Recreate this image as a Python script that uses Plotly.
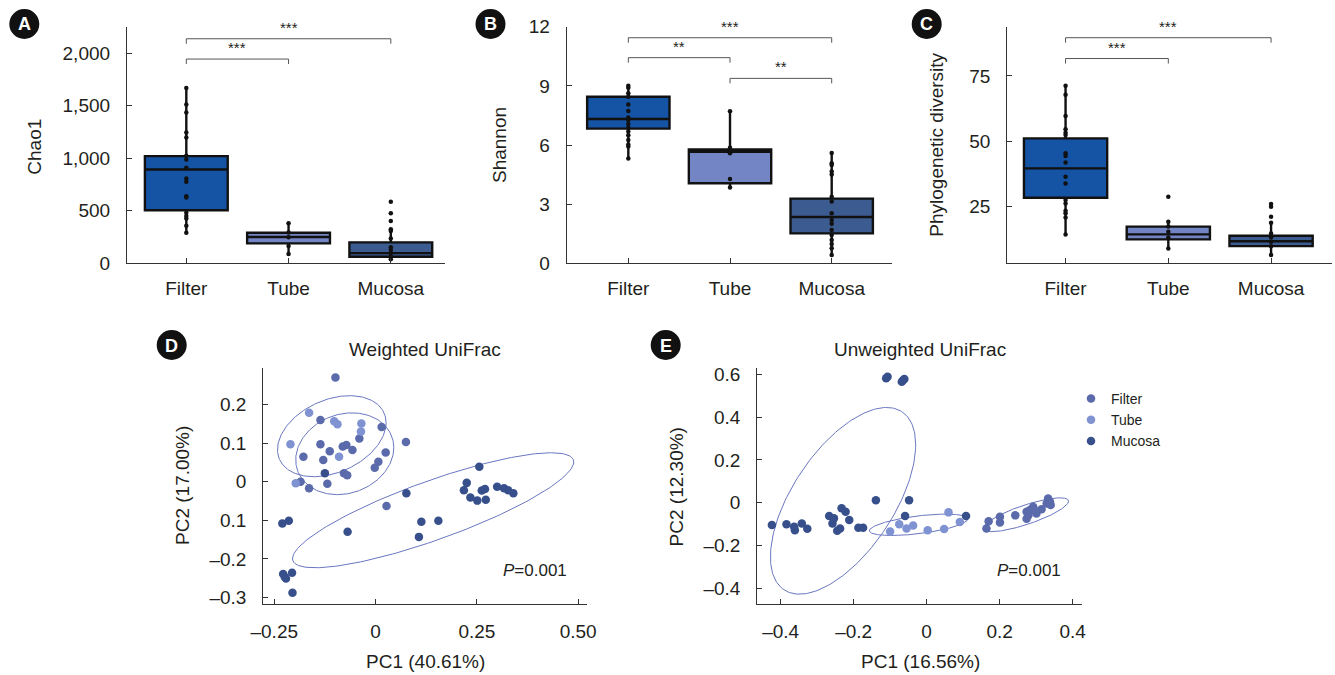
import numpy as np
import plotly.graph_objects as go

W, H = 1335, 675
FONT = "Liberation Sans, Arial, sans-serif"
TXT = "#231f20"
AXC = "#333333"

CATS = ["Filter", "Tube", "Mucosa"]
BOX_COLORS = ["#1553a5", "#7385c5", "#3c5b91"]

# ---- Panel A: Chao1 ----
A_Q1 = [505, 190, 63]
A_MED = [892, 250, 97]
A_Q3 = [1020, 290, 199]
A_LO = [290, 90, 35]
A_HI = [1668, 380, 323]
A_FILTER = [1668, 1510, 1434, 1244, 1196, 1022, 987, 908, 807, 775, 639, 627, 481, 449, 427, 358, 291]
A_TUBE = [380, 294, 247, 165, 89]
A_MUCOSA = [586, 475, 402, 323, 307, 237, 152, 127, 95, 63, 38]
A_BRACKETS = [(0, 1, 1943, "***"), (0, 2, 2136, "***")]

# ---- Panel B: Shannon ----
B_Q1 = [6.83, 4.06, 1.52]
B_MED = [7.32, 5.66, 2.35]
B_Q3 = [8.45, 5.78, 3.28]
B_LO = [5.31, 3.85, 0.42]
B_HI = [9.0, 7.71, 5.59]
B_FILTER = [9.0, 8.9, 8.62, 8.45, 8.06, 7.72, 7.4, 7.27, 7.06, 6.88, 6.68, 6.5, 6.25, 6.03, 5.92, 5.31]
B_TUBE = [7.71, 5.86, 5.58, 4.28, 3.85]
B_MUCOSA = [5.59, 5.07, 4.99, 4.65, 4.51, 3.38, 3.13, 2.54, 2.2, 2.0, 1.69, 1.44, 1.18, 0.98, 0.76, 0.42]
B_BRACKETS = [(0, 1, 10.43, "**"), (0, 2, 11.44, "***"), (1, 2, 9.38, "**")]

# ---- Panel C: Phylogenetic diversity ----
C_Q1 = [28.2, 12.2, 9.6]
C_MED = [39.5, 14.1, 11.5]
C_Q3 = [51.0, 17.1, 13.6]
C_LO = [14.1, 8.7, 6.2]
C_HI = [71.2, 19.0, 18.6]
C_FILTER = [71.2, 67.8, 59.6, 54.5, 53.2, 52.3, 45.3, 44.2, 41.7, 36.3, 33.7, 27.3, 26.0, 23.2, 22.2, 20.6, 14.1]
C_TUBE = [28.6, 19.0, 17.1, 15.1, 12.9, 8.7]
C_MUCOSA = [25.8, 24.7, 20.9, 18.6, 14.5, 12.9, 11.3, 9.6, 6.2]
C_BRACKETS = [(0, 1, 81.7, "***"), (0, 2, 89.7, "***")]

# ---- PCoA colours ----
GROUP_COLORS = {"Filter": "#5a6aaa", "Tube": "#7f92d2", "Mucosa": "#37508c"}
ELLIPSE_COLOR = "#6a76c0"

# ---- Panel D: Weighted UniFrac ----
D_FILTER_X = [-0.099, -0.136, -0.040, 0.015, 0.075, -0.136, -0.113, -0.081, -0.072, -0.057, -0.178,
              -0.129, 0.025, 0.007, -0.002, -0.078, -0.070, -0.185, -0.164, -0.119, 0.027]
D_FILTER_Y = [0.270, 0.160, 0.112, 0.142, 0.103, 0.097, 0.079, 0.091, 0.095, 0.082, 0.065,
              0.056, 0.076, 0.052, 0.036, 0.022, 0.017, 0.000, -0.017, -0.005, -0.063]
D_TUBE_X = [-0.164, -0.102, -0.094, -0.035, -0.036, -0.210, -0.090, -0.197]
D_TUBE_Y = [0.179, 0.157, 0.149, 0.151, 0.130, 0.097, 0.065, -0.004]
D_MUCOSA_X = [-0.125, 0.076, 0.256, 0.225, 0.218, 0.234, 0.251, 0.262, 0.270, 0.272, 0.300, 0.317,
              0.327, 0.340, 0.113, 0.155, 0.107, -0.069, -0.230, -0.214, -0.228, -0.221, -0.206,
              -0.205, -0.224]
D_MUCOSA_Y = [0.022, -0.030, 0.039, -0.003, -0.022, -0.041, -0.049, -0.023, -0.019, -0.047, -0.013,
              -0.017, -0.022, -0.030, -0.104, -0.101, -0.143, -0.130, -0.108, -0.101, -0.239, -0.251,
              -0.236, -0.288, -0.247]
# ellipse: centre x, centre y, half-width, half-height, correlation
D_ELLIPSES = [(-0.108, 0.118, 0.134, 0.105, 0.33),
              (-0.076, 0.0725, 0.121, 0.106, 0.15),
              (0.142, -0.074, 0.347, 0.149, 0.84)]

# ---- Panel E: Unweighted UniFrac ----
E_FILTER_X = [0.164, 0.170, 0.201, 0.201, 0.243, 0.274, 0.283, 0.292, 0.274, 0.301, 0.315, 0.329,
              0.333, 0.338, 0.340, 0.279, 0.297]
E_FILTER_Y = [-0.120, -0.086, -0.065, -0.092, -0.059, -0.075, -0.034, -0.019, -0.042, -0.050, -0.030,
              -0.003, 0.020, 0.005, -0.011, -0.058, -0.037]
E_TUBE_X = [-0.075, -0.055, -0.037, -0.100, 0.003, 0.048, 0.060, 0.091]
E_TUBE_Y = [-0.100, -0.120, -0.106, -0.134, -0.128, -0.123, -0.045, -0.090]
E_MUCOSA_X = [-0.111, -0.107, -0.064, -0.068, -0.061, -0.139, -0.048, -0.424, -0.384, -0.361, -0.363,
              -0.342, -0.327, -0.267, -0.254, -0.258, -0.233, -0.222, -0.212, -0.245, -0.237, -0.187,
              -0.174, -0.059, 0.108]
E_MUCOSA_Y = [0.581, 0.589, 0.573, 0.565, 0.578, 0.012, 0.012, -0.104, -0.100, -0.128, -0.112,
              -0.097, -0.121, -0.062, -0.073, -0.097, -0.026, -0.042, -0.081, -0.131, -0.120, -0.117,
              -0.117, -0.062, -0.062]
E_ELLIPSES = [(-0.229, 0.009, 0.199, 0.436, 0.60),
              (-0.022, -0.103, 0.135, 0.050, 0.55),
              (0.272, -0.056, 0.117, 0.079, 0.80)]


def fx(px):
    return px / W


def fy(py):
    return 1 - py / H


fig = go.Figure()
annotations = []
shapes = []

# ---------- box panels ----------
BOX_PANELS = [
    dict(k="", q1=A_Q1, med=A_MED, q3=A_Q3, lo=A_LO, hi=A_HI, pts=[A_FILTER, A_TUBE, A_MUCOSA],
         br=A_BRACKETS, xdom=(127, 445), ydom=(27, 263.3), xr=(-0.58, 2.53), yr=(0, 2248),
         tv=[0, 500, 1000, 1500, 2000], fmt=","),
    dict(k="2", q1=B_Q1, med=B_MED, q3=B_Q3, lo=B_LO, hi=B_HI, pts=[B_FILTER, B_TUBE, B_MUCOSA],
         br=B_BRACKETS, xdom=(566.7, 891.7), ydom=(26.7, 263.3), xr=(-0.606, 2.59), yr=(0, 12),
         tv=[0, 3, 6, 9, 12], fmt=""),
    dict(k="3", q1=C_Q1, med=C_MED, q3=C_Q3, lo=C_LO, hi=C_HI, pts=[C_FILTER, C_TUBE, C_MUCOSA],
         br=C_BRACKETS, xdom=(1007.3, 1331.7), ydom=(27.3, 263.3), xr=(-0.567, 2.59), yr=(3, 93.7),
         tv=[25, 50, 75], fmt=""),
]

layout_axes = {}
for p in BOX_PANELS:
    k = p["k"]
    xa, ya = "x" + k, "y" + k
    for i, c in enumerate(CATS):
        fig.add_trace(go.Box(
            x=[c], q1=[p["q1"][i]], median=[p["med"][i]], q3=[p["q3"][i]],
            lowerfence=[p["lo"][i]], upperfence=[p["hi"][i]],
            fillcolor=BOX_COLORS[i], line=dict(color="#111111", width=2.4),
            whiskerwidth=0, width=0.81, boxpoints=False, orientation="v",
            xaxis=xa, yaxis=ya, showlegend=False, hoverinfo="skip"))
        fig.add_trace(go.Scatter(
            x=[c] * len(p["pts"][i]), y=p["pts"][i], mode="markers",
            marker=dict(color="#111111", size=4.5), xaxis=xa, yaxis=ya,
            showlegend=False, hoverinfo="skip"))
    # significance brackets
    yspan = p["yr"][1] - p["yr"][0]
    drop = 5 * yspan / (p["ydom"][1] - p["ydom"][0])
    for (i0, i1, h, s) in p["br"]:
        fig.add_trace(go.Scatter(
            x=[CATS[i0], CATS[i0], CATS[i1], CATS[i1]], y=[h - drop, h, h, h - drop],
            mode="lines", line=dict(color="#555555", width=1), xaxis=xa, yaxis=ya,
            showlegend=False, hoverinfo="skip", cliponaxis=False))
        annotations.append(dict(x=(i0 + i1) / 2, y=h, xref=xa, yref=ya, text=s, showarrow=False,
                                yanchor="bottom", yshift=1, font=dict(family=FONT, size=15, color=TXT)))
    layout_axes["xaxis" + k] = dict(
        domain=[fx(p["xdom"][0]), fx(p["xdom"][1])], anchor=ya, type="category",
        categoryorder="array", categoryarray=CATS, range=list(p["xr"]), automargin=False,
        showline=True, linecolor=AXC, linewidth=1.2, ticks="inside", ticklen=5, tickcolor=AXC,
        showgrid=False, zeroline=False, tickfont=dict(family=FONT, size=19, color=TXT),
        ticklabelstandoff=8)
    layout_axes["yaxis" + k] = dict(
        domain=[fy(p["ydom"][1]), fy(p["ydom"][0])], anchor=xa, range=list(p["yr"]),
        tickvals=p["tv"], tickformat=p["fmt"], automargin=False,
        showline=True, linecolor=AXC, linewidth=1.2, ticks="inside", ticklen=5, tickcolor=AXC,
        showgrid=False, zeroline=False, tickfont=dict(family=FONT, size=19, color=TXT),
        ticklabelstandoff=12)


# ---------- PCoA panels ----------
def ellipse_xy(cx, cy, hx, hy, r):
    t = np.linspace(0, 2 * np.pi, 200)
    return cx + hx * np.cos(t), cy + hy * (r * np.cos(t) + np.sqrt(1 - r * r) * np.sin(t))


PCOA = [
    dict(k="4", groups=[("Filter", D_FILTER_X, D_FILTER_Y), ("Tube", D_TUBE_X, D_TUBE_Y),
                        ("Mucosa", D_MUCOSA_X, D_MUCOSA_Y)],
         ell=D_ELLIPSES, xdom=(263.3, 586.7), ydom=(368.3, 604), xr=(-0.277, 0.521), yr=(-0.317, 0.294),
         xtv=[-0.25, 0, 0.25, 0.5], xtt=["\u20130.25", "0", "0.25", "0.50"],
         ytv=[0.2, 0.1, 0, -0.1, -0.2, -0.3], ytt=["0.2", "0.1", "0", "0.1", "\u20130.2", "\u20130.3"],
         legend=True),
    dict(k="5", groups=[("Filter", E_FILTER_X, E_FILTER_Y), ("Tube", E_TUBE_X, E_TUBE_Y),
                        ("Mucosa", E_MUCOSA_X, E_MUCOSA_Y)],
         ell=E_ELLIPSES, xdom=(757.3, 1081.7), ydom=(368.3, 604), xr=(-0.464, 0.425), yr=(-0.473, 0.628),
         xtv=[-0.4, -0.2, 0, 0.2, 0.4], xtt=["\u20130.4", "\u20130.2", "0", "0.2", "0.4"],
         ytv=[0.6, 0.4, 0.2, 0, -0.2, -0.4], ytt=["0.6", "0.4", "0.2", "0", "\u20130.2", "\u20130.4"],
         legend=False),
]

for p in PCOA:
    k = p["k"]
    xa, ya = "x" + k, "y" + k
    for (cx, cy, hx, hy, r) in p["ell"]:
        ex, ey = ellipse_xy(cx, cy, hx, hy, r)
        fig.add_trace(go.Scatter(x=ex, y=ey, mode="lines", line=dict(color=ELLIPSE_COLOR, width=1),
                                 xaxis=xa, yaxis=ya, showlegend=False, hoverinfo="skip"))
    for name, gx, gy in p["groups"]:
        fig.add_trace(go.Scatter(x=gx, y=gy, mode="markers", name=name,
                                 marker=dict(color=GROUP_COLORS[name], size=8.5),
                                 xaxis=xa, yaxis=ya, showlegend=p["legend"], cliponaxis=False))
    layout_axes["xaxis" + k] = dict(
        domain=[fx(p["xdom"][0]), fx(p["xdom"][1])], anchor=ya, range=list(p["xr"]),
        tickvals=p["xtv"], ticktext=p["xtt"], automargin=False,
        showline=True, linecolor=AXC, linewidth=1.2, ticks="inside", ticklen=5, tickcolor=AXC,
        showgrid=False, zeroline=False, tickfont=dict(family=FONT, size=19, color=TXT),
        ticklabelstandoff=10)
    layout_axes["yaxis" + k] = dict(
        domain=[fy(p["ydom"][1]), fy(p["ydom"][0])], anchor=xa, range=list(p["yr"]),
        tickvals=p["ytv"], ticktext=p["ytt"], automargin=False,
        showline=True, linecolor=AXC, linewidth=1.2, ticks="inside", ticklen=5, tickcolor=AXC,
        showgrid=False, zeroline=False, tickfont=dict(family=FONT, size=19, color=TXT),
        ticklabelstandoff=12)

# ---------- text annotations ----------
def ann(text, x, y, size=19, angle=0, xanchor="center", yanchor="middle", color=TXT, bold=False):
    annotations.append(dict(text=("<b>%s</b>" % text) if bold else text, x=fx(x), y=fy(y),
                            xref="paper", yref="paper", showarrow=False, textangle=angle,
                            xanchor=xanchor, yanchor=yanchor,
                            font=dict(family=FONT, size=size, color=color)))


ann("Chao1", 35, 146.7, angle=-90)
ann("Shannon", 500, 145, angle=-90)
ann("Phylogenetic diversity", 936.7, 145, angle=-90)
ann("Weighted UniFrac", 425, 349)
ann("Unweighted UniFrac", 920, 349)
ann("PC1 (40.61%)", 425.7, 661.7)
ann("PC1 (16.56%)", 920.7, 661.7)
ann("PC2 (17.00%)", 182.3, 485.7, angle=-90)
ann("PC2 (12.30%)", 676.7, 486.7, angle=-90)
ann("<i>P</i>=0.001", 569.3, 570.7, size=17, xanchor="right")
ann("<i>P</i>=0.001", 1063.3, 570.7, size=17, xanchor="right")

# panel letters
for letter, cx, cy in [("A", 24.3, 24), ("B", 490.5, 24), ("C", 926.7, 24), ("D", 171.7, 345), ("E", 665.7, 345)]:
    shapes.append(dict(type="circle", xref="paper", yref="paper", x0=fx(cx - 15), x1=fx(cx + 15),
                       y0=fy(cy + 15), y1=fy(cy - 15), fillcolor="#111111", line=dict(width=0)))
    ann(letter, cx, cy + 0.5, size=18, color="white", bold=True)

fig.update_layout(
    width=W, height=H, autosize=False, margin=dict(l=0, r=0, t=0, b=0, autoexpand=False),
    paper_bgcolor="white", plot_bgcolor="white", boxmode="overlay",
    annotations=annotations, shapes=shapes,
    legend=dict(x=fx(1071), y=fy(383), xanchor="left", yanchor="top", bgcolor="rgba(0,0,0,0)",
                font=dict(family=FONT, size=14, color=TXT), tracegroupgap=0, itemwidth=30),
    **layout_axes)

fig.write_html("out.html", config={"displayModeBar": False},
               post_script="document.body.style.margin='0px';document.body.style.padding='0px';")
